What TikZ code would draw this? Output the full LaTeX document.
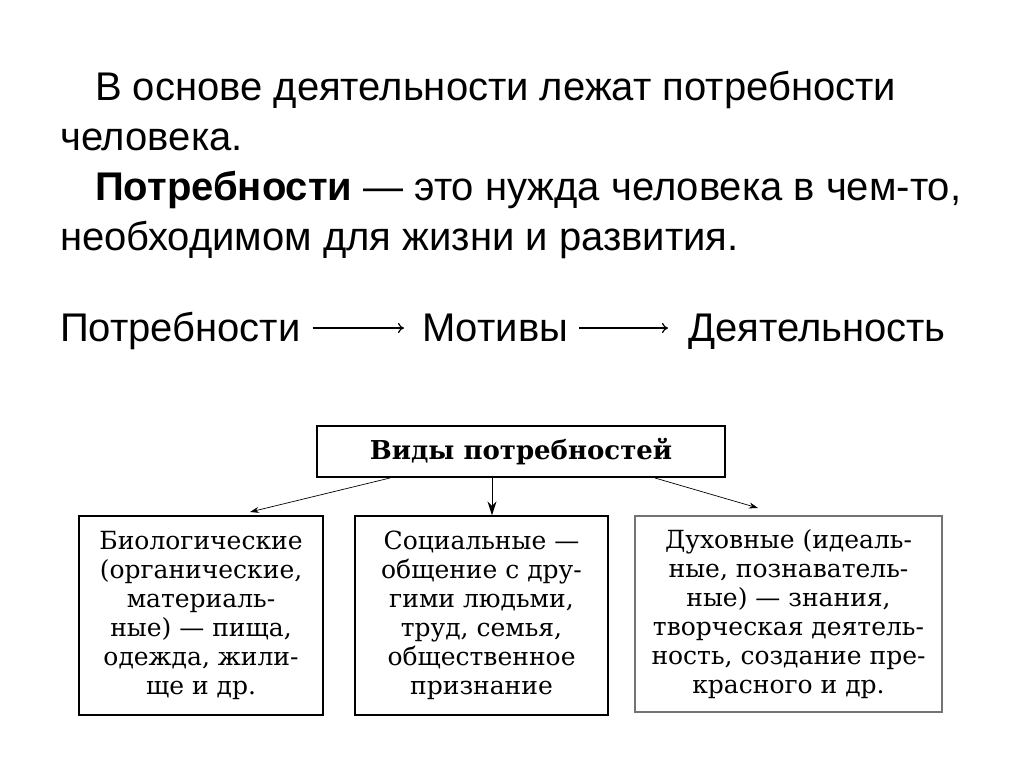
\documentclass[tikz,border=0pt]{standalone}
\usepackage{fontspec}
\setmainfont{Liberation Sans}
\newfontfamily\boxfont{DejaVu Serif}
\usetikzlibrary{arrows.meta}
\tikzset{
  line/.style={anchor=base west, inner sep=0pt, font=\fontsize{40}{46}\selectfont},
  kindbox/.style={draw, line width=1.3pt, inner sep=0pt},
  kindtext/.style={align=center, font=\boxfont\fontsize{25}{29}\selectfont},
  flowarrow/.style={line width=1.2pt, -{To[length=6pt,width=10pt]}},
  thinarrow/.style={line width=0.7pt, -{Stealth[length=9pt,width=6pt]}},
}
\begin{document}
\begin{tikzpicture}[x=1pt,y=-1pt]
\useasboundingbox (0,0) rectangle (1024,767);
\fill[white] (0,0) rectangle (1024,767);
\node[line] (l1) at (95,101) {В основе деятельности лежат потребности};
\node[line] (l2) at (60,151) {человека.};
\node[line] (l3) at (95,201) {\textbf{Потребности} — это нужда человека в чем-то,};
\node[line] (l4) at (60,250) {необходимом для жизни и развития.};
\node[line] (p1) at (60,341) {Потребности};
\node[line] (m1) at (422,341) {Мотивы};
\node[line] (d1) at (688,341) {Деятельность};
\draw[flowarrow] ([xshift=12pt,yshift=13pt]p1.base east) -- ([xshift=-18pt,yshift=13pt]m1.base west);
\draw[flowarrow] ([xshift=11pt,yshift=13pt]m1.base east) -- ([xshift=-20pt,yshift=13pt]d1.base west);

\node[kindbox, minimum width=408pt, minimum height=51pt, font=\boxfont\bfseries\fontsize{26}{29}\selectfont] (vid) at (521,451.5) {Виды потребностей};

\node[kindbox, minimum width=244pt, minimum height=199pt] (bio) at (201,615.5) {};
\node[kindtext] (biot) at (bio.center) {Биологические\\(органические,\\материаль-\\ные) — пища,\\одежда, жили-\\ще и др.};
\node[kindbox, minimum width=253pt, minimum height=199pt] (soc) at (481.5,615.5) {};
\node[kindtext] (soct) at (soc.center) {Социальные —\\общение с дру-\\гими людьми,\\труд, семья,\\общественное\\признание};
\node[kindbox, draw=black!55, minimum width=307pt, minimum height=196pt] (duh) at (788.5,614) {};
\node[kindtext] (duht) at (duh.center) {Духовные (идеаль-\\ные, познаватель-\\ные) — знания,\\творческая деятель-\\ность, создание пре-\\красного и др.};

\coordinate (al) at (390,478);
\coordinate (ar) at (655,478);
\coordinate (bl) at (250,512);
\coordinate (br) at (758,508);
\draw[thinarrow] (al) -- (bl);
\draw[line width=1pt, -{Stealth[length=14pt,width=9pt]}] (vid.south -| soc.north) ++(10.5,0) coordinate (mt) -- (mt |- soc.north);
\draw[thinarrow] (ar) -- (br);
\end{tikzpicture}
\end{document}
